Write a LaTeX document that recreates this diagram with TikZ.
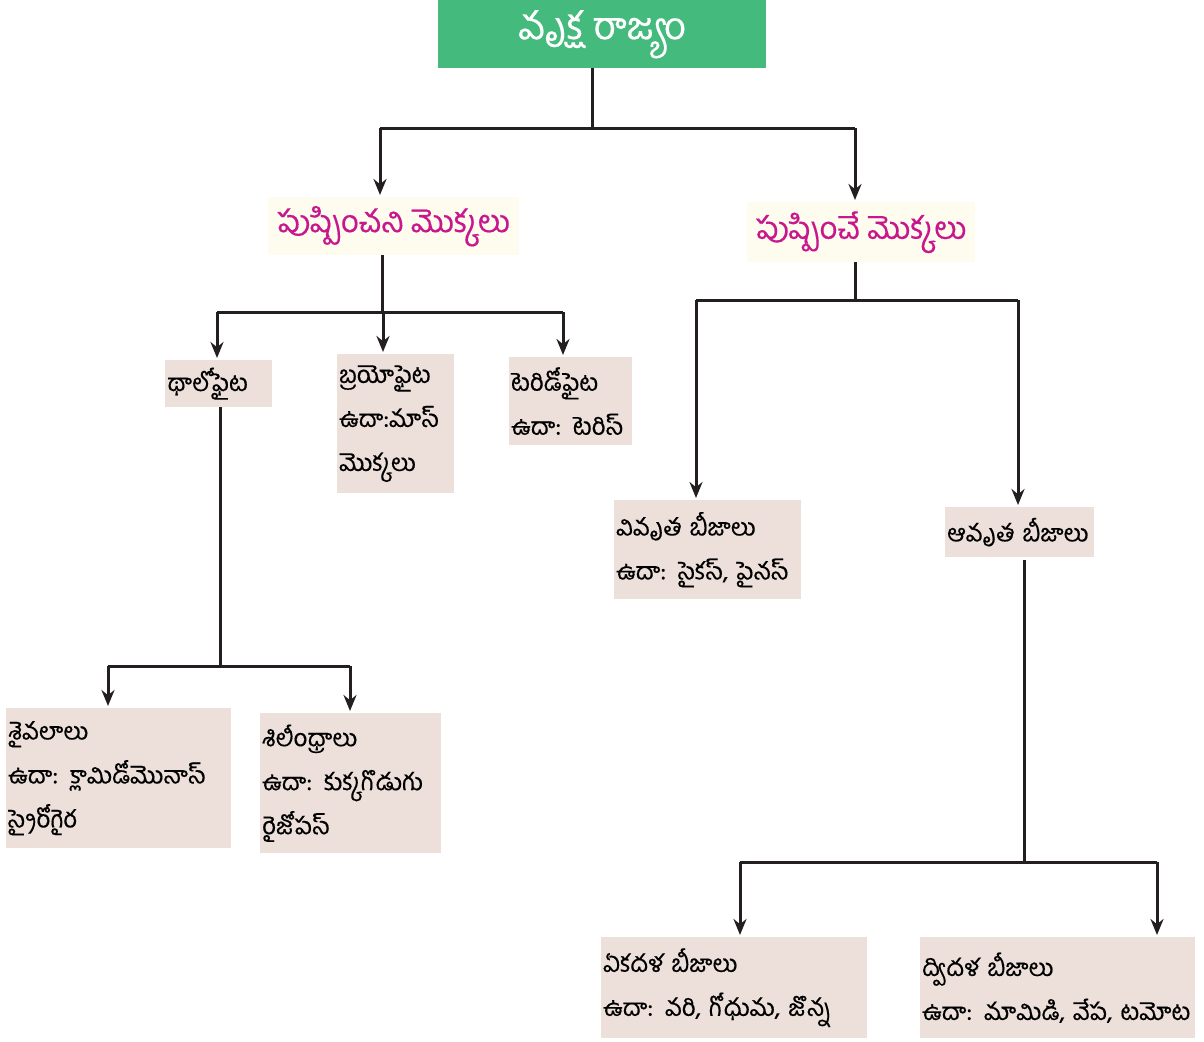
\documentclass[tikz,border=0pt]{standalone}
\usepackage{fontspec}
\setmainfont[Script=Telugu,FakeBold=0.4]{Hind Guntur}
\usetikzlibrary{arrows.meta}
\definecolor{titlegreen}{HTML}{45BA7D}
\definecolor{creamfill}{HTML}{FEFCEE}
\definecolor{boxfill}{HTML}{EDE0DB}
\definecolor{magentatxt}{HTML}{C8178D}
\definecolor{linecol}{HTML}{231F20}
\begin{document}
\begin{tikzpicture}[x=1pt,y=-1pt,
  titlebox/.style={fill=titlegreen,text=white,anchor=north west,inner sep=0pt,align=center,
    font=\fontsize{38}{42}\selectfont},
  groupbox/.style={fill=creamfill,text=magentatxt,anchor=north west,inner sep=0pt,align=center,
    font=\fontsize{31}{34}\selectfont},
  leafbox/.style={fill=boxfill,text=black,anchor=north west,inner xsep=2pt,inner ysep=0pt,align=left,
    font=\fontsize{24}{44}\selectfont},
  conn/.style={draw=linecol,line width=3pt,line join=miter},
  arr/.style={conn,-{Stealth[length=16pt,width=13pt]},shorten >=2pt},
]
\useasboundingbox (0,0) rectangle (1204,1041);

% nodes
\node[titlebox,minimum width=328pt,minimum height=68pt] (root) at (438,0) {వృక్ష రాజ్యం};
\node[groupbox,minimum width=251pt,minimum height=58pt] (nonflow) at (268,197) {పుష్పించని మొక్కలు};
\node[groupbox,minimum width=228pt,minimum height=60pt] (flow) at (747,202) {పుష్పించే మొక్కలు};

\node[leafbox,text width=103pt,minimum height=47pt] (thallo) at (165,360) {థాలోఫైట};
\node[leafbox,text width=113pt,minimum height=139pt] (bryo) at (337,354) {బ్రయోఫైట\\ఉదా:మాస్\\మొక్కలు};
\node[leafbox,text width=119pt,minimum height=88pt] (pteri) at (509,357) {టెరిడోఫైట\\ఉదా: టెరిస్};
\node[leafbox,text width=183pt,minimum height=99pt] (gymno) at (614,500) {వివృత బీజాలు\\ఉదా: సైకస్, పైనస్};
\node[leafbox,text width=145pt,minimum height=50pt] (angio) at (945,507) {ఆవృత బీజాలు};
\node[leafbox,text width=221pt,minimum height=140pt] (algae) at (6,708) {శైవలాలు\\ఉదా: క్లామిడోమొనాస్\\స్పైరోగైర};
\node[leafbox,text width=177pt,minimum height=140pt] (fungi) at (260,713) {శిలీంధ్రాలు\\ఉదా: కుక్కగొడుగు\\రైజోపస్};
\node[leafbox,text width=262pt,minimum height=101pt] (mono) at (601,937) {ఏకదళ బీజాలు\\ఉదా: వరి, గోధుమ, జొన్న};
\node[leafbox,text width=271pt,minimum height=101pt] (dico) at (920,937) {ద్విదళ బీజాలు\\ఉదా: మామిడి, వేప, టమోట};

% junction coordinates
\coordinate (b1m) at (592,128);
\coordinate (b1l) at (380,128);
\coordinate (b1r) at (855,128);
\coordinate (b2m) at (382,312);
\coordinate (b2l) at (217,312);
\coordinate (b2c) at (383,312);
\coordinate (b2r) at (563,312);
\coordinate (b3m) at (855,300);
\coordinate (b3l) at (696,300);
\coordinate (b3r) at (1018,300);
\coordinate (b4m) at (220,666);
\coordinate (b4l) at (108,666);
\coordinate (b4r) at (350,666);
\coordinate (b5m) at (1024,862);
\coordinate (b5l) at (740,862);
\coordinate (b5r) at (1157,862);

% connectors
\draw[conn] (b1m |- root.south) -- (b1m);
\draw[conn] (b1l) -- (b1r);
\draw[arr] (b1l) -- (b1l |- nonflow.north);
\draw[arr] (b1r) -- (b1r |- flow.north);

\draw[conn] (b2m |- nonflow.south) -- (b2m);
\draw[conn] (b2l) -- (b2r);
\draw[arr] (b2l) -- (b2l |- thallo.north);
\draw[arr] (b2c) -- (b2c |- bryo.north);
\draw[arr] (b2r) -- (b2r |- pteri.north);

\draw[conn] (b3m |- flow.south) -- (b3m);
\draw[conn] (b3l) -- (b3r);
\draw[arr] (b3l) -- (b3l |- gymno.north);
\draw[arr] (b3r) -- (b3r |- angio.north);

\draw[conn] (b4m |- thallo.south) -- (b4m);
\draw[conn] (b4l) -- (b4r);
\draw[arr] (b4l) -- (b4l |- algae.north);
\draw[arr] (b4r) -- (b4r |- fungi.north);

\draw[conn] ([yshift=-3pt]b5m |- angio.south) -- (b5m);
\draw[conn] (b5l) -- (b5r);
\draw[arr] (b5l) -- (b5l |- mono.north);
\draw[arr] (b5r) -- (b5r |- dico.north);
\end{tikzpicture}
\end{document}
